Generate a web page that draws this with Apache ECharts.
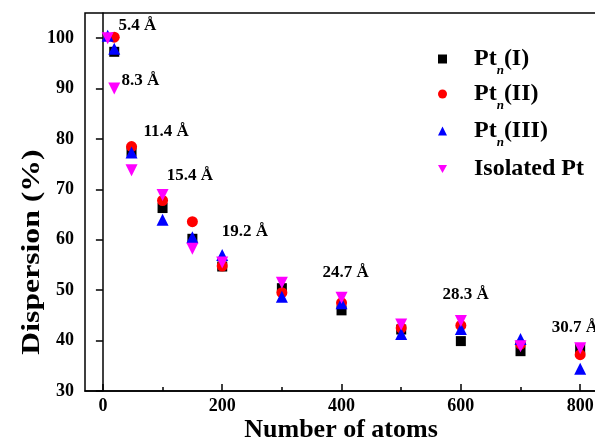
<!DOCTYPE html>
<html>
<head>
<meta charset="utf-8">
<script src="https://cdn.jsdelivr.net/npm/echarts@6/dist/echarts.min.js"></script>
<style>
    html, body { margin: 0; padding: 0; background: #fff; }
    #main { width: 595px; height: 442px; }
</style>
</head>
<body>
<div id="main"></div>
<script>
    // 分散度 vs 原子数
    var FONT = 'Liberation Serif';

    var ptIX = [19, 48, 100, 150, 200, 300, 400, 500, 600, 700, 800],
        ptIY = [97.3, 77.5, 66.3, 60.2, 54.7, 50.4, 46.0, 42.2, 39.9, 37.9, 38.4];

    var ptIIX = [19, 48, 100, 150, 200, 300, 400, 500, 600, 700, 800],
        ptIIY = [100.2, 78.5, 67.8, 63.6, 54.8, 49.5, 47.5, 42.5, 43.0, 39.3, 37.2];

    var ptIIIX = [8, 19, 48, 100, 150, 200, 300, 400, 500, 600, 700, 800],
        ptIIIY = [100.5, 97.9, 77.3, 64.0, 60.5, 57.0, 48.7, 47.4, 41.3, 42.3, 40.3, 34.4];

    var isoX = [8, 19, 48, 100, 150, 200, 300, 400, 500, 600, 700, 800],
        isoY = [100.0, 90.0, 73.8, 68.9, 58.2, 55.5, 51.5, 48.5, 43.2, 43.9, 38.9, 38.5];

    // 尺寸标注
    var sizeText = ['5.4 Å', '8.3 Å', '11.4 Å', '15.4 Å', '19.2 Å', '24.7 Å', '28.3 Å', '30.7 Å'],
        sizeX = [58, 63, 106, 146, 238, 407, 608, 791],
        sizeY = [102.4, 91.6, 81.5, 72.7, 61.7, 53.5, 49.1, 42.5];

    var xTicks = [0, 200, 400, 600, 800],
        xMinorTicks = [100, 300, 500, 700];

    function zip(xs, ys) {
        var out = [];
        for (var i = 0; i < xs.length; i++) {
            out.push([xs[i], ys[i]]);
        }
        return out;
    }

    var sizeData = [];
    for (var i = 0; i < sizeText.length; i++) {
        sizeData.push({ name: sizeText[i], value: [sizeX[i], sizeY[i]] });
    }

    var legendRich = {
        gap: { width: 22 },
        a: { fontFamily: FONT, fontWeight: 'bold', fontSize: 24, color: '#000', lineHeight: 36 },
        sub: { fontFamily: FONT, fontWeight: 'bold', fontStyle: 'italic', fontSize: 13, color: '#000', lineHeight: 13, verticalAlign: 'bottom' }
    };

    function makeLegend(name, top) {
        return {
            data: [name],
            left: 438,
            top: top,
            padding: 0,
            itemWidth: 9,
            itemHeight: 9,
            selectedMode: false,
            formatter: function (n) {
                if (n === 'Isolated Pt') return '{gap|}{a|Isolated Pt}';
                var m = n.match(/\((.*)\)/);
                return '{gap|}{a|Pt}{sub|n}{a|(' + m[1] + ')}';
            },
            textStyle: { rich: legendRich }
        };
    }

    var axisTextStyle = { fontFamily: FONT, fontWeight: 'bold', fontSize: 18, color: '#000' };

    var chart = echarts.init(document.getElementById('main'));

    var option = {
        animation: false,
        backgroundColor: '#fff',
        grid: {
            left: 85,
            top: 13,
            bottom: 51,
            right: -15,
            show: true,
            borderColor: '#000',
            borderWidth: 1.5,
            outerBoundsMode: 'none'
        },
        legend: [
            makeLegend('Pt(I)', 65 - 18),
            makeLegend('Pt(II)', 100 - 18),
            makeLegend('Pt(III)', 137 - 18),
            makeLegend('Isolated Pt', 175 - 18)
        ],
        xAxis: [{
            type: 'value',
            min: -30,
            max: 850,
            splitLine: { show: false },
            axisLine: { lineStyle: { color: '#000', width: 1.5 } },
            axisTick: { inside: true, length: 7, lineStyle: { color: '#000', width: 1.5 }, customValues: xTicks },
            axisLabel: Object.assign({ margin: 6, customValues: xTicks }, axisTextStyle)
        }, {
            type: 'value',
            min: -30,
            max: 850,
            position: 'bottom',
            splitLine: { show: false },
            axisLine: { show: false },
            axisTick: { inside: true, length: 4, lineStyle: { color: '#000', width: 1.5 }, customValues: xMinorTicks },
            axisLabel: { show: false }
        }],
        yAxis: {
            type: 'value',
            min: 30,
            max: 105,
            interval: 10,
            splitLine: { show: false },
            axisLine: { lineStyle: { color: '#000', width: 1.5 } },
            axisTick: { inside: false, length: 7, lineStyle: { color: '#000', width: 1.5 } },
            axisLabel: Object.assign({ margin: 11, showMaxLabel: false }, axisTextStyle)
        },
        graphic: [{
            type: 'text',
            x: 341,
            y: 430,
            style: {
                text: 'Number of atoms',
                fontFamily: FONT,
                fontWeight: 'bold',
                fontSize: 26,
                fill: '#000',
                align: 'center',
                verticalAlign: 'middle'
            }
        }, {
            type: 'text',
            x: 32,
            y: 252,
            rotation: Math.PI / 2,
            scaleX: 1.22,
            style: {
                text: 'Dispersion (%)',
                fontFamily: FONT,
                fontWeight: 'bold',
                fontSize: 26,
                fill: '#000',
                align: 'center',
                verticalAlign: 'middle'
            }
        }],
        series: [{
            name: 'Pt(I)',
            type: 'scatter',
            symbol: 'rect',
            symbolSize: 10,
            itemStyle: { color: '#000', opacity: 1 },
            data: zip(ptIX, ptIY)
        }, {
            name: 'Pt(II)',
            type: 'scatter',
            symbol: 'circle',
            symbolSize: 11,
            itemStyle: { color: '#ff0000', opacity: 1 },
            data: zip(ptIIX, ptIIY)
        }, {
            name: 'Pt(III)',
            type: 'scatter',
            symbol: 'triangle',
            symbolSize: 12,
            itemStyle: { color: '#0000ff', opacity: 1 },
            data: zip(ptIIIX, ptIIIY)
        }, {
            name: 'Isolated Pt',
            type: 'scatter',
            symbol: 'path://M0,0L2,0L1,1.732Z',
            symbolSize: 12,
            itemStyle: { color: '#ff00ff', opacity: 1 },
            data: zip(isoX, isoY)
        }, {
            name: 'size',
            type: 'scatter',
            symbolSize: 0,
            silent: true,
            clip: false,
            itemStyle: { color: '#000', opacity: 1 },
            label: {
                show: true,
                position: 'inside',
                formatter: '{b}',
                fontFamily: FONT,
                fontWeight: 'bold',
                fontSize: 17,
                color: '#000',
                opacity: 1,
                textBorderWidth: 0
            },
            data: sizeData
        }]
    };

    chart.setOption(option);
</script>
</body>
</html>
